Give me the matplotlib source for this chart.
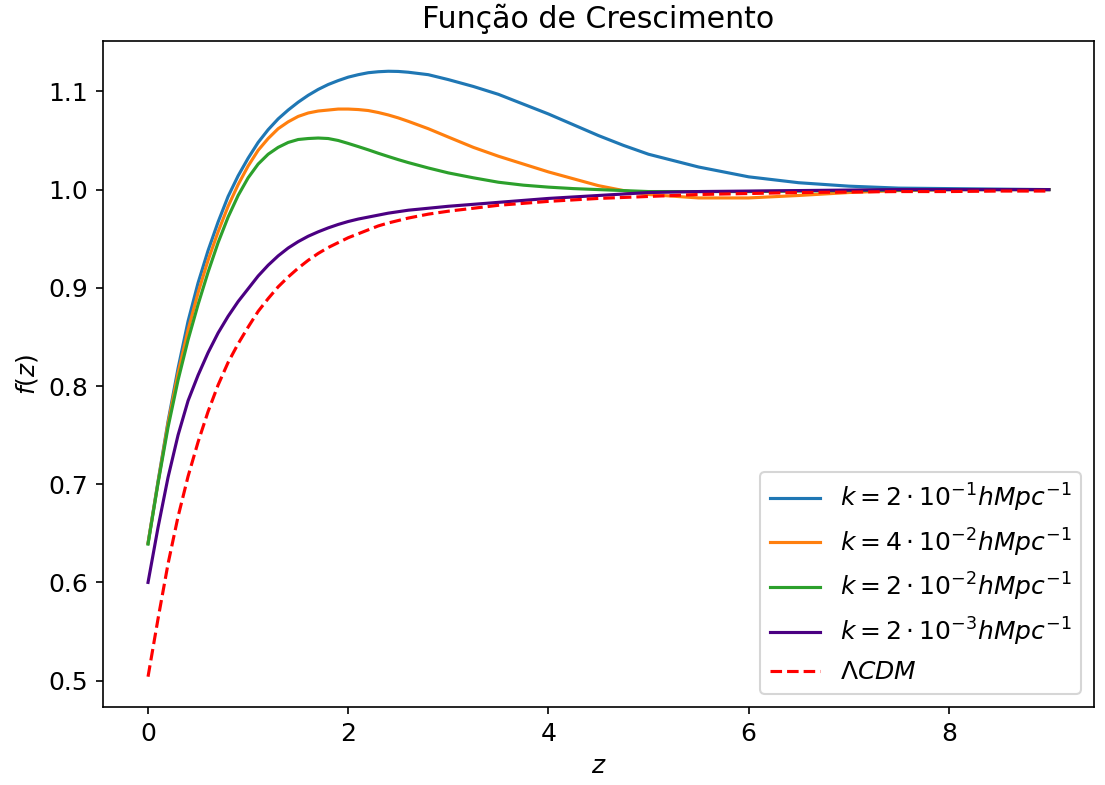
import numpy as np
import matplotlib
matplotlib.use('Agg')
import matplotlib.pyplot as plt

plt.rcParams['font.size'] = 12

z = [0.0, 0.1, 0.2, 0.3, 0.4, 0.5, 0.6, 0.7, 0.8, 0.9,
     1.0, 1.1, 1.2, 1.3, 1.4, 1.5, 1.6, 1.7, 1.8, 1.9,
     2.0, 2.1, 2.2, 2.3, 2.4, 2.5, 2.6, 2.8, 3.0,
     3.25, 3.5, 3.75, 4.0, 4.25, 4.5, 4.75, 5.0,
     5.5, 6.0, 6.5, 7.0, 7.5, 8.0, 8.5, 9.0]

f_k1 = [0.640, 0.703, 0.764, 0.818, 0.866, 0.905, 0.938, 0.967, 0.993, 1.014,
        1.032, 1.048, 1.061, 1.072, 1.081, 1.089, 1.096, 1.102, 1.107, 1.111,
        1.1145, 1.117, 1.119, 1.120, 1.1205, 1.1203, 1.1195, 1.117, 1.112,
        1.105, 1.097, 1.087, 1.077, 1.066, 1.055, 1.045, 1.036,
        1.023, 1.013, 1.007, 1.0035, 1.0015, 1.001, 1.0005, 1.000]

f_k2 = [0.640, 0.702, 0.762, 0.813, 0.857, 0.895, 0.928, 0.957, 0.983, 1.005,
        1.024, 1.040, 1.052, 1.062, 1.069, 1.0745, 1.078, 1.080, 1.081, 1.082,
        1.082, 1.0815, 1.0805, 1.0785, 1.076, 1.073, 1.0695, 1.062, 1.0535,
        1.043, 1.034, 1.026, 1.018, 1.011, 1.004, 0.999, 0.995,
        0.9915, 0.9915, 0.994, 0.997, 0.999, 1.000, 1.000, 1.000]

f_k3 = [0.639, 0.701, 0.758, 0.806, 0.847, 0.883, 0.916, 0.946, 0.972, 0.994,
        1.012, 1.026, 1.036, 1.043, 1.048, 1.051, 1.052, 1.0525, 1.052, 1.050,
        1.047, 1.0438, 1.0405, 1.037, 1.0337, 1.0305, 1.0275, 1.022, 1.017,
        1.012, 1.0075, 1.0045, 1.0025, 1.001, 1.000, 0.999, 0.998,
        0.998, 0.998, 0.9985, 0.999, 0.9995, 1.000, 1.000, 1.000]

f_k4 = [0.600, 0.656, 0.707, 0.750, 0.785, 0.811, 0.834, 0.854, 0.871, 0.886,
        0.899, 0.912, 0.923, 0.9325, 0.9405, 0.947, 0.9525, 0.957, 0.961, 0.9645,
        0.9675, 0.970, 0.972, 0.974, 0.976, 0.9775, 0.979, 0.981, 0.983,
        0.985, 0.987, 0.989, 0.991, 0.9925, 0.994, 0.9955, 0.997,
        0.998, 0.9985, 0.999, 0.9995, 1.000, 1.000, 1.000, 1.000]

f_lcdm = [0.504, 0.563, 0.619, 0.667, 0.708, 0.743, 0.774, 0.801, 0.824, 0.843,
          0.860, 0.876, 0.889, 0.901, 0.911, 0.920, 0.928, 0.935, 0.941, 0.946,
          0.951, 0.955, 0.959, 0.963, 0.966, 0.9685, 0.971, 0.975, 0.978,
          0.981, 0.984, 0.986, 0.988, 0.9895, 0.991, 0.992, 0.993,
          0.995, 0.996, 0.997, 0.9975, 0.998, 0.998, 0.9985, 0.9985]

labels = [r'$k=2\cdot10^{-1}hMpc^{-1}$',
          r'$k=4\cdot10^{-2}hMpc^{-1}$',
          r'$k=2\cdot10^{-2}hMpc^{-1}$',
          r'$k=2\cdot10^{-3}hMpc^{-1}$',
          r'$\Lambda CDM$']

fig = plt.figure(figsize=(1105/150, 785/150), dpi=150)
ax = fig.add_subplot(111)
fig.subplots_adjust(left=0.0932, right=0.990, top=0.9478, bottom=0.0994)

ax.plot(z, f_k1, color='tab:blue', label=labels[0])
ax.plot(z, f_k2, color='tab:orange', label=labels[1])
ax.plot(z, f_k3, color='tab:green', label=labels[2])
ax.plot(z, f_k4, color='indigo', label=labels[3])
ax.plot(z, f_lcdm, 'r--', label=labels[4])

ax.set_title('Função de Crescimento')
ax.set_xlabel(r'$z$')
ax.set_ylabel(r'$f(z)$')
ax.legend(loc='lower right')

fig.savefig('out.png', dpi=150)
